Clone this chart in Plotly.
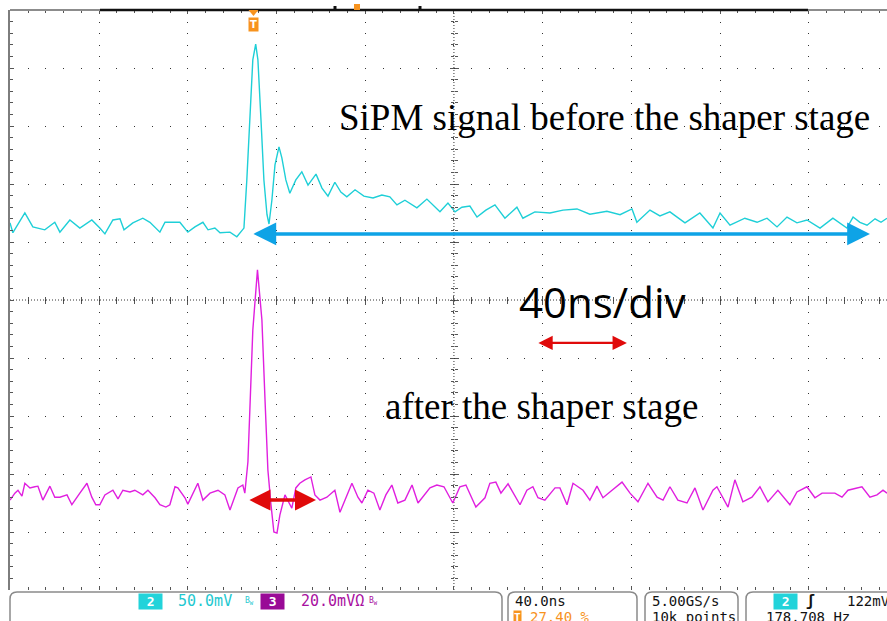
import plotly.graph_objects as go

# ---------------- data (time in ns, amplitude in screen divisions) ----------------
time_ch2_ns = [-200.2, -198.9, -193.5, -189.9, -184.5, -180.0, -177.7, -173.2, -168.7, -163.3,
               -159.7, -157.4, -153.8, -150.6, -148.8, -144.8, -140.3, -137.1, -132.6, -130.3,
               -123.6, -120.0, -116.8, -113.2, -110.9, -107.8, -105.5, -101.0, -97.9, -94.7,
               -93.4, -92.0, -90.7, -89.4, -88.4, -87.0, -85.7, -84.3, -83.4, -82.1,
               -80.7, -78.9, -77.6, -75.8, -74.0, -71.3, -68.6, -65.8, -62.2, -59.5,
               -56.8, -53.7, -51.0, -48.3, -44.6, -40.6, -36.5, -32.5, -28.9, -25.7,
               -22.1, -16.7, -12.2, -6.3, -2.7, 0.5, 3.6, 7.2, 10.4, 14.4,
               18.5, 23.0, 28.4, 31.1, 36.5, 43.3, 49.2, 55.5, 61.3, 69.0,
               74.9, 80.3, 82.5, 88.4, 92.9, 97.4, 104.2, 110.9, 116.8, 120.0,
               124.5, 131.2, 136.7, 141.2, 145.7, 150.2, 154.7, 159.2, 165.1, 170.9,
               177.2, 180.0, 183.1, 186.3, 189.9, 192.6, 195.3]
ch2_div = [1.33, 1.16, 1.50, 1.26, 1.21, 1.34, 1.17, 1.38, 1.24, 1.38,
           1.24, 1.14, 1.38, 1.40, 1.21, 1.33, 1.41, 1.34, 1.17, 1.34,
           1.34, 1.17, 1.26, 1.34, 1.21, 1.24, 1.16, 1.17, 1.09, 1.24,
           2.07, 3.28, 4.14, 4.41, 4.14, 3.10, 2.07, 1.47, 1.31, 1.72,
           2.33, 2.64, 2.45, 2.07, 1.84, 2.07, 2.21, 1.98, 2.17, 1.93,
           1.79, 2.03, 1.86, 1.78, 1.90, 1.79, 1.76, 1.81, 1.78, 1.64,
           1.72, 1.59, 1.74, 1.52, 1.67, 1.52, 1.60, 1.62, 1.43, 1.55,
           1.64, 1.41, 1.60, 1.41, 1.52, 1.50, 1.55, 1.57, 1.48, 1.53,
           1.47, 1.57, 1.34, 1.55, 1.45, 1.52, 1.33, 1.50, 1.24, 1.50,
           1.29, 1.41, 1.34, 1.41, 1.26, 1.43, 1.33, 1.38, 1.24, 1.41,
           1.24, 1.43, 1.34, 1.29, 1.40, 1.34, 1.41]

time_ch3_ns = [-200.2, -198.0, -196.6, -194.8, -193.5, -191.2, -189.0, -187.6, -185.4, -182.2,
               -180.0, -177.7, -174.5, -172.3, -168.7, -165.5, -163.3, -161.5, -159.7, -157.4,
               -153.8, -151.5, -149.3, -146.1, -143.9, -140.3, -138.0, -134.8, -132.6, -129.9,
               -128.1, -125.8, -124.5, -121.3, -120.0, -117.7, -115.5, -113.2, -110.0, -106.4,
               -103.3, -101.0, -97.4, -95.2, -94.3, -92.9, -92.0, -90.7, -88.6,
               -86.6, -85.2, -83.9, -82.5, -81.2, -79.8, -78.5, -76.2, -74.4, -73.1,
               -71.3, -69.5, -67.2, -64.5, -62.7, -60.4, -57.3, -53.7, -51.4, -48.7,
               -46.0, -43.3, -41.5, -38.8, -36.1, -33.4, -30.7, -28.0, -25.3, -22.1,
               -18.9, -16.2, -13.5, -10.8, -7.7, -4.5, -0.5, 2.7, 5.4, 9.9,
               14.0, 16.2, 18.9, 21.2, 24.4, 29.8, 32.9, 35.6, 37.9, 41.0,
               45.6, 47.8, 51.0, 53.7, 58.2, 61.3, 64.5, 67.2, 71.3, 75.8,
               79.4, 83.0, 87.5, 91.6, 94.3, 97.4, 101.0, 105.1, 108.7, 112.3,
               116.8, 118.6, 123.6, 126.7, 130.3, 134.4, 138.0, 141.6, 146.1, 151.5,
               154.7, 159.2, 162.8, 166.0, 171.8, 175.0, 177.7, 184.0, 187.6, 190.8,
               193.5, 195.3]
ch3_div = [-3.45, -3.33, -3.28, -3.38, -3.16, -3.24, -3.22, -3.21, -3.45, -3.21,
           -3.40, -3.40, -3.36, -3.53, -3.33, -3.16, -3.40, -3.53, -3.53, -3.36,
           -3.28, -3.43, -3.28, -3.31, -3.28, -3.36, -3.28, -3.41, -3.53, -3.57,
           -3.53, -3.22, -3.24, -3.41, -3.52, -3.33, -3.16, -3.45, -3.33, -3.28,
           -3.36, -3.62, -3.24, -3.19, -3.33, -2.79, -1.72, -0.52, 0.52,
           -0.34, -1.72, -2.93, -3.53, -4.00, -4.02, -3.71, -3.36, -3.48, -3.59,
           -3.24, -3.16, -3.10, -3.05, -3.36, -3.45, -3.40, -3.28, -3.66, -3.41,
           -3.16, -3.40, -3.50, -3.28, -3.33, -3.62, -3.36, -3.19, -3.50, -3.45,
           -3.19, -3.50, -3.36, -3.24, -3.19, -3.22, -3.50, -3.22, -3.19, -3.57,
           -3.41, -3.16, -3.14, -3.33, -3.17, -3.53, -3.28, -3.22, -3.41, -3.45,
           -3.24, -3.24, -3.53, -3.16, -3.28, -3.45, -3.21, -3.41, -3.28, -3.14,
           -3.33, -3.48, -3.16, -3.40, -3.45, -3.22, -3.45, -3.50, -3.24, -3.62,
           -3.28, -3.22, -3.57, -3.10, -3.48, -3.40, -3.22, -3.48, -3.28, -3.53,
           -3.31, -3.22, -3.41, -3.33, -3.33, -3.40, -3.28, -3.22, -3.40, -3.36,
           -3.28, -3.33]

trigger_ns = -90.4
x_range = [-200.2, 195.3]
y_range = [-5, 5]

label_top = "SiPM signal before the shaper stage"
label_bottom = "after the shaper stage"
label_scale = "40ns/div"

CYAN = "#1ECFD7"
MAGENTA = "#E01FDF"
ORANGE = "#F7931E"
BLUE = "#0EA3E6"
RED = "#E00A0A"

W, H = 887, 621
L, T, R_EDGE, B = 10, 10, 887, 590


def px(xp, yp):
    return ((xp - L) / (R_EDGE - L), (B - yp) / (B - T))


def open_box(x0, y0, x1, y1, r):
    a = px(x0, y1)
    b = px(x0, y0 + r)
    c = px(x0, y0)
    d = px(x0 + r, y0)
    e = px(x1 - r, y0)
    f = px(x1, y0)
    g = px(x1, y0 + r)
    h = px(x1, y1)
    return (f"M{a[0]},{a[1]} L{b[0]},{b[1]} Q{c[0]},{c[1]} {d[0]},{d[1]} "
            f"L{e[0]},{e[1]} Q{f[0]},{f[1]} {g[0]},{g[1]} L{h[0]},{h[1]} Z")


fig = go.Figure()

fig.add_trace(go.Scatter(x=time_ch2_ns, y=ch2_div, mode="lines",
                         line=dict(color=CYAN, width=1.4), hoverinfo="skip"))
fig.add_trace(go.Scatter(x=time_ch3_ns, y=ch3_div, mode="lines",
                         line=dict(color=MAGENTA, width=1.4), hoverinfo="skip"))
# empty traces so that tick-only overlay axes get drawn
for xa, ya in [("x2", "y"), ("x3", "y"), ("x4", "y"), ("x", "y2"), ("x", "y3")]:
    fig.add_trace(go.Scatter(x=[], y=[], xaxis=xa, yaxis=ya, showlegend=False))

tick_col = "#555555"
common_x = dict(range=x_range, showticklabels=False, zeroline=False, showgrid=False,
                dtick=40, tick0=-200, ticklen=4, tickcolor=tick_col, tickwidth=1,
                minor=dict(ticks="inside", dtick=8, tick0=-200, ticklen=3,
                           tickcolor=tick_col, tickwidth=1))
common_y = dict(range=y_range, showticklabels=False, zeroline=False, showgrid=False,
                dtick=1, tick0=-5, ticklen=4, tickcolor=tick_col, tickwidth=1,
                minor=dict(ticks="inside", dtick=0.2, tick0=-5, ticklen=3,
                           tickcolor=tick_col, tickwidth=1))

center_pos = (0 - x_range[0]) / (x_range[1] - x_range[0])

fig.update_layout(
    width=W, height=H,
    margin=dict(l=L, r=W - R_EDGE, t=T, b=H - B, pad=0),
    paper_bgcolor="white", plot_bgcolor="white",
    showlegend=False,
    xaxis=dict(common_x, showgrid=True, gridcolor="#333333", gridwidth=1,
               griddash="1px,10.6px", ticks="inside"),
    yaxis=dict(common_y, showgrid=True, gridcolor="#333333", gridwidth=1,
               griddash="1px,16.74px", ticks="inside", showline=True,
               linecolor="#7d7d7d", linewidth=2),
    xaxis2=dict(common_x, overlaying="x", side="top", anchor="y", ticks="inside"),
    xaxis3=dict(common_x, overlaying="x", anchor="free", position=0.5, side="bottom",
                ticks="inside"),
    xaxis4=dict(common_x, overlaying="x", anchor="free", position=0.5, side="top",
                ticks="inside"),
    yaxis2=dict(common_y, overlaying="y", anchor="free", position=center_pos,
                side="left", ticks="inside"),
    yaxis3=dict(common_y, overlaying="y", anchor="free", position=center_pos,
                side="right", ticks="inside"),
)

shapes = []
# dense centre cross-hair
shapes.append(dict(type="line", xref="paper", x0=0, x1=1, yref="y", y0=0, y1=0,
                   line=dict(color="#333333", width=1, dash="1px,2px"), layer="below"))
shapes.append(dict(type="line", xref="x", x0=0, x1=0, yref="paper", y0=0, y1=1,
                   line=dict(color="#333333", width=1, dash="1px,2px"), layer="below"))
# top border: grey frame + black record bar
shapes.append(dict(type="line", xref="paper", x0=0, x1=1, yref="paper", y0=1, y1=1,
                   line=dict(color="#8c8c8c", width=2)))
p0 = px(100, 10)
p1 = px(808, 10)
shapes.append(dict(type="line", xref="paper", x0=p0[0], x1=p1[0], yref="paper", y0=1, y1=1,
                   line=dict(color="#111111", width=2.5)))
for mx in (335, 420):
    a = px(mx - 1.5, 6)
    b = px(mx + 1.5, 10)
    shapes.append(dict(type="rect", xref="paper", yref="paper", x0=a[0], x1=b[0],
                       y0=b[1], y1=a[1], fillcolor="#111111", line=dict(width=0)))
a = px(354, 4)
b = px(360, 10)
shapes.append(dict(type="rect", xref="paper", yref="paper", x0=a[0], x1=b[0],
                   y0=b[1], y1=a[1], fillcolor=ORANGE, line=dict(width=0)))
# trigger pointer (small triangle under the top border)
tp = (trigger_ns - x_range[0]) / (x_range[1] - x_range[0])
dxp = 5 / (R_EDGE - L)
tri_top = px(0, 10)[1]
tri_bot = px(0, 16)[1]
shapes.append(dict(type="path", xref="paper", yref="paper",
                   path=f"M{tp - dxp},{tri_top} L{tp + dxp},{tri_top} L{tp},{tri_bot} Z",
                   fillcolor=ORANGE, line=dict(width=0)))
# status bar boxes
for (bx0, bx1) in [(10, 502), (508, 637), (645, 738), (746, 900)]:
    shapes.append(dict(type="path", xref="paper", yref="paper",
                       path=open_box(bx0, 592, bx1, 650, 7),
                       fillcolor="white", line=dict(color="#8a8a8a", width=1.5)))
fig.update_layout(shapes=shapes)

ann = []
# trigger marker
ann.append(dict(x=trigger_ns, xref="x", y=1, yref="paper", yanchor="top",
                text="<b>T</b>", showarrow=False, bgcolor=ORANGE, borderpad=1,
                font=dict(color="white", size=10, family="DejaVu Sans"), yshift=-7))

# texts in the graticule
ann.append(dict(x=67.7, y=3.14, xref="x", yref="y", text=label_top, showarrow=False,
                font=dict(family="Liberation Serif", size=37, color="black")))
ann.append(dict(x=39.7, y=-1.83, xref="x", yref="y", text=label_bottom, showarrow=False,
                font=dict(family="Liberation Serif", size=37, color="black")))
ann.append(dict(x=67.2, y=-0.03, xref="x", yref="y", text=label_scale, showarrow=False,
                font=dict(family="Open Sans", size=42, color="black")))

# double arrows
for (xa, xb, yy, col, w, s) in [(-91.1, 187.6, 1.14, BLUE, 3.5, 1.3),
                                (37.4, 78.0, -0.74, RED, 2.2, 1.3),
                                (-92.9, -62.2, -3.45, RED, 3.5, 1.2)]:
    ann.append(dict(x=xb, y=yy, ax=xa, ay=yy, xref="x", yref="y", axref="x", ayref="y",
                    text="", showarrow=True, arrowhead=2, arrowside="end+start",
                    arrowsize=s, arrowwidth=w, arrowcolor=col, standoff=0, startstandoff=0))

# status bar
mono = "DejaVu Sans Mono"
y1 = px(0, 601)[1]
y2 = px(0, 617)[1]


def st(xpix, yy, text, color, anchor="left", size=15, bg=None):
    d = dict(x=px(xpix, 0)[0], y=yy, xref="paper", yref="paper", xanchor=anchor,
             yanchor="middle", text=text, showarrow=False,
             font=dict(family=mono, size=size, color=color))
    if bg:
        d["bgcolor"] = bg
        d["borderpad"] = 0
    return d


ann.append(st(150, y1, "<b> 2 </b>", "white", "center", 13, bg="#22D3DA"))
ann.append(st(176, y1, "50.0mV", "#1EC8D0"))
ann.append(st(243, y1, "B<sub>W</sub>", "#1EC8D0", size=8))
ann.append(st(272, y1, "<b> 3 </b>", "white", "center", 13, bg="#990A96"))
ann.append(st(299, y1, "20.0mVΩ", "#A8109F"))
ann.append(st(367, y1, "B<sub>W</sub>", "#A8109F", size=8))
ann.append(st(513, y1, "40.0ns", "#111111", size=14))
ann.append(st(513, y2, "<b>T</b>", "white", size=11, bg=ORANGE))
ann.append(st(528, y2, "27.40 %", ORANGE, size=14))
ann.append(st(650, y1, "5.00GS/s", "#111111", size=14))
ann.append(st(650, y2, "10k points", "#111111", size=14))
ann.append(st(785, y1, "<b> 2 </b>", "white", "center", 13, bg="#22D3DA"))
ann.append(st(810, y1, "<b>ʃ</b>", "#111111", "center"))
ann.append(st(845, y1, "122mV", "#111111", size=14))
ann.append(st(764, y2, "178.708 Hz", "#111111", size=14))

fig.update_layout(annotations=ann)

fig.write_html("out.html", config={"displayModeBar": False},
               post_script="document.body.style.margin='0px';")
